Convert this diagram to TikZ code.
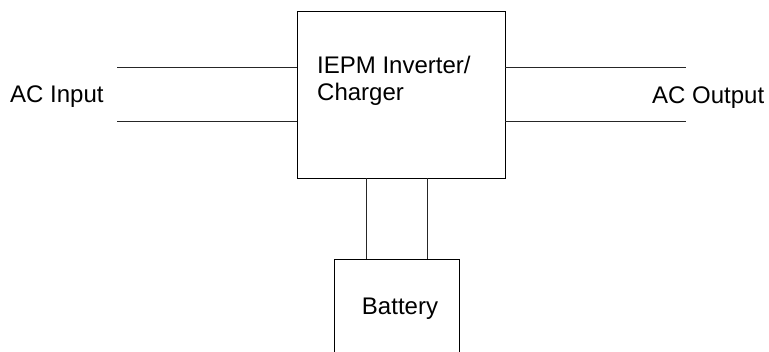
\documentclass[tikz,border=0pt]{standalone}
\usepackage{fontspec}
\setmainfont{Liberation Sans}
\usetikzlibrary{positioning}

\begin{document}
\begin{tikzpicture}[x=1pt, y=-1pt,
		block/.style={rectangle, draw=black, line width=0.9pt, inner sep=0pt},
		wire/.style={draw=black!85, line width=0.9pt},
		label/.style={inner sep=0pt, font=\fontsize{24}{27}\selectfont}
		]
		\useasboundingbox (0,0) rectangle (769,352);
		
		% Blocks
		\node[block, minimum width=208pt, minimum height=167pt] (iepm) at (401,94.5) {};
		\node[label, anchor=north west, align=left] (iepmtext) at (317,55.5) {IEPM Inverter/\\Charger};
		\node[block, minimum width=125pt, minimum height=100pt] (battery) at (396.5,309) {};
		\node[label, anchor=base] (batterytext) at (400,315) {Battery};
		
		% Labels
		\node[label, anchor=base west] (acin) at (10,103) {AC Input};
		\node[label, anchor=base west] (acout) at (652,104) {AC Output};
		
		% Input and output lines
		\coordinate (inA) at (117,67);
		\coordinate (inB) at (117,121);
		\coordinate (outA) at (686,67);
		\coordinate (outB) at (686,121);
		\draw[wire] (inA) -- (inA -| iepm.west);
		\draw[wire] (inB) -- (inB -| iepm.west);
		\draw[wire] (iepm.east |- outA) -- (outA);
		\draw[wire] (iepm.east |- outB) -- (outB);
		
		% Battery lines
		\draw[wire] ([xshift=70pt]iepm.south west) -- ([xshift=70pt]iepm.south west |- battery.north);
		\draw[wire] ([xshift=131pt]iepm.south west) -- ([xshift=131pt]iepm.south west |- battery.north);
		
	\end{tikzpicture}
\end{document}
